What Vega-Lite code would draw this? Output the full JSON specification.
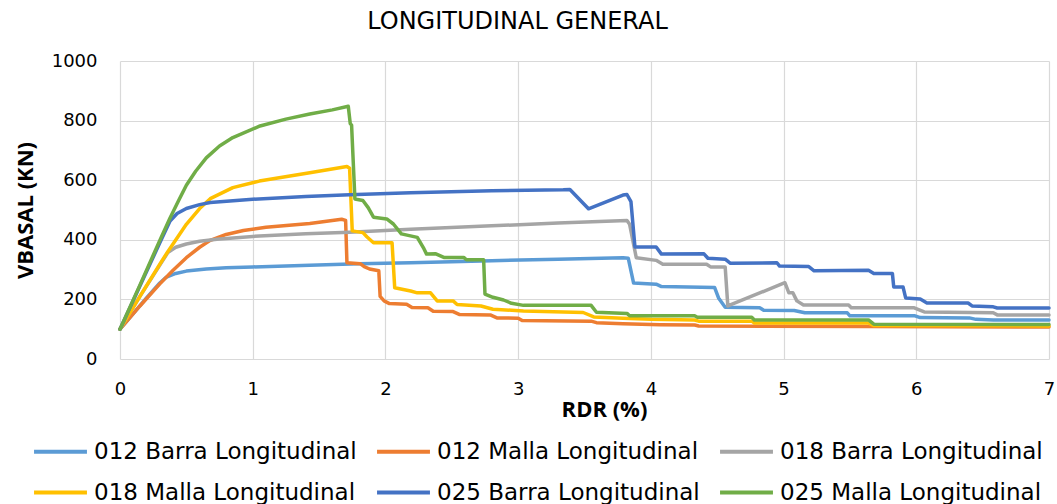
{
  "$schema": "https://vega.github.io/schema/vega-lite/v6.json",
  "autosize": "none",
  "width": 929,
  "height": 298,
  "padding": {"left": 120, "top": 61, "right": 8, "bottom": 145},
  "background": "white",
  "title": {
    "text": "LONGITUDINAL GENERAL",
    "font": "DejaVu Sans",
    "fontSize": 24,
    "fontWeight": "normal",
    "color": "#000000",
    "anchor": "middle",
    "dx": -67,
    "offset": 18
  },
  "data": {
    "values": [
      {"s": "012 Barra Longitudinal", "x": 0, "y": 100},
      {"s": "012 Barra Longitudinal", "x": 0.1, "y": 152},
      {"s": "012 Barra Longitudinal", "x": 0.2, "y": 205},
      {"s": "012 Barra Longitudinal", "x": 0.3, "y": 255},
      {"s": "012 Barra Longitudinal", "x": 0.35, "y": 275},
      {"s": "012 Barra Longitudinal", "x": 0.42, "y": 287},
      {"s": "012 Barra Longitudinal", "x": 0.5, "y": 295},
      {"s": "012 Barra Longitudinal", "x": 0.65, "y": 302},
      {"s": "012 Barra Longitudinal", "x": 0.8, "y": 306},
      {"s": "012 Barra Longitudinal", "x": 1.0, "y": 309},
      {"s": "012 Barra Longitudinal", "x": 1.43, "y": 315},
      {"s": "012 Barra Longitudinal", "x": 1.8, "y": 320},
      {"s": "012 Barra Longitudinal", "x": 2.19, "y": 323},
      {"s": "012 Barra Longitudinal", "x": 2.8, "y": 330},
      {"s": "012 Barra Longitudinal", "x": 3.3, "y": 335},
      {"s": "012 Barra Longitudinal", "x": 3.79, "y": 340},
      {"s": "012 Barra Longitudinal", "x": 3.83, "y": 338},
      {"s": "012 Barra Longitudinal", "x": 3.87, "y": 255},
      {"s": "012 Barra Longitudinal", "x": 4.04, "y": 251},
      {"s": "012 Barra Longitudinal", "x": 4.08, "y": 243},
      {"s": "012 Barra Longitudinal", "x": 4.48, "y": 240},
      {"s": "012 Barra Longitudinal", "x": 4.51, "y": 205},
      {"s": "012 Barra Longitudinal", "x": 4.56, "y": 174},
      {"s": "012 Barra Longitudinal", "x": 4.82, "y": 172},
      {"s": "012 Barra Longitudinal", "x": 4.85, "y": 164},
      {"s": "012 Barra Longitudinal", "x": 5.08, "y": 163},
      {"s": "012 Barra Longitudinal", "x": 5.16, "y": 155},
      {"s": "012 Barra Longitudinal", "x": 5.48, "y": 155},
      {"s": "012 Barra Longitudinal", "x": 5.5, "y": 145},
      {"s": "012 Barra Longitudinal", "x": 5.99, "y": 145},
      {"s": "012 Barra Longitudinal", "x": 6.03, "y": 139},
      {"s": "012 Barra Longitudinal", "x": 6.4, "y": 138},
      {"s": "012 Barra Longitudinal", "x": 6.45, "y": 133},
      {"s": "012 Barra Longitudinal", "x": 6.58, "y": 131},
      {"s": "012 Barra Longitudinal", "x": 7.0, "y": 131},

      {"s": "012 Malla Longitudinal", "x": 0, "y": 100},
      {"s": "012 Malla Longitudinal", "x": 0.15, "y": 178},
      {"s": "012 Malla Longitudinal", "x": 0.3, "y": 252},
      {"s": "012 Malla Longitudinal", "x": 0.4, "y": 298},
      {"s": "012 Malla Longitudinal", "x": 0.5, "y": 340},
      {"s": "012 Malla Longitudinal", "x": 0.6, "y": 375},
      {"s": "012 Malla Longitudinal", "x": 0.68, "y": 398},
      {"s": "012 Malla Longitudinal", "x": 0.8, "y": 418},
      {"s": "012 Malla Longitudinal", "x": 0.93, "y": 431},
      {"s": "012 Malla Longitudinal", "x": 1.1, "y": 442},
      {"s": "012 Malla Longitudinal", "x": 1.43, "y": 455},
      {"s": "012 Malla Longitudinal", "x": 1.67, "y": 469},
      {"s": "012 Malla Longitudinal", "x": 1.7, "y": 465},
      {"s": "012 Malla Longitudinal", "x": 1.71, "y": 323},
      {"s": "012 Malla Longitudinal", "x": 1.81, "y": 320},
      {"s": "012 Malla Longitudinal", "x": 1.84, "y": 310},
      {"s": "012 Malla Longitudinal", "x": 1.88, "y": 302},
      {"s": "012 Malla Longitudinal", "x": 1.95, "y": 296},
      {"s": "012 Malla Longitudinal", "x": 1.96, "y": 210},
      {"s": "012 Malla Longitudinal", "x": 1.99, "y": 195},
      {"s": "012 Malla Longitudinal", "x": 2.03, "y": 186},
      {"s": "012 Malla Longitudinal", "x": 2.16, "y": 184},
      {"s": "012 Malla Longitudinal", "x": 2.2, "y": 173},
      {"s": "012 Malla Longitudinal", "x": 2.32, "y": 172},
      {"s": "012 Malla Longitudinal", "x": 2.36, "y": 160},
      {"s": "012 Malla Longitudinal", "x": 2.51, "y": 159},
      {"s": "012 Malla Longitudinal", "x": 2.56, "y": 149},
      {"s": "012 Malla Longitudinal", "x": 2.79, "y": 148},
      {"s": "012 Malla Longitudinal", "x": 2.84, "y": 138},
      {"s": "012 Malla Longitudinal", "x": 3.0, "y": 137},
      {"s": "012 Malla Longitudinal", "x": 3.03, "y": 129},
      {"s": "012 Malla Longitudinal", "x": 3.55, "y": 127},
      {"s": "012 Malla Longitudinal", "x": 3.59, "y": 122},
      {"s": "012 Malla Longitudinal", "x": 3.79, "y": 118},
      {"s": "012 Malla Longitudinal", "x": 4.07, "y": 115},
      {"s": "012 Malla Longitudinal", "x": 4.33, "y": 114},
      {"s": "012 Malla Longitudinal", "x": 4.36, "y": 111},
      {"s": "012 Malla Longitudinal", "x": 5.66, "y": 109},
      {"s": "012 Malla Longitudinal", "x": 7.0, "y": 107},

      {"s": "018 Barra Longitudinal", "x": 0, "y": 100},
      {"s": "018 Barra Longitudinal", "x": 0.15, "y": 210},
      {"s": "018 Barra Longitudinal", "x": 0.3, "y": 315},
      {"s": "018 Barra Longitudinal", "x": 0.36, "y": 357},
      {"s": "018 Barra Longitudinal", "x": 0.42, "y": 375},
      {"s": "018 Barra Longitudinal", "x": 0.5, "y": 386},
      {"s": "018 Barra Longitudinal", "x": 0.6, "y": 395},
      {"s": "018 Barra Longitudinal", "x": 0.73, "y": 402},
      {"s": "018 Barra Longitudinal", "x": 1.05, "y": 413},
      {"s": "018 Barra Longitudinal", "x": 1.4, "y": 420},
      {"s": "018 Barra Longitudinal", "x": 1.73, "y": 425},
      {"s": "018 Barra Longitudinal", "x": 2.19, "y": 435},
      {"s": "018 Barra Longitudinal", "x": 2.8, "y": 447},
      {"s": "018 Barra Longitudinal", "x": 3.3, "y": 456},
      {"s": "018 Barra Longitudinal", "x": 3.82, "y": 465},
      {"s": "018 Barra Longitudinal", "x": 3.84, "y": 452},
      {"s": "018 Barra Longitudinal", "x": 3.89, "y": 340},
      {"s": "018 Barra Longitudinal", "x": 4.04, "y": 331},
      {"s": "018 Barra Longitudinal", "x": 4.09, "y": 318},
      {"s": "018 Barra Longitudinal", "x": 4.42, "y": 318},
      {"s": "018 Barra Longitudinal", "x": 4.45, "y": 309},
      {"s": "018 Barra Longitudinal", "x": 4.56, "y": 309},
      {"s": "018 Barra Longitudinal", "x": 4.58, "y": 178},
      {"s": "018 Barra Longitudinal", "x": 5.01, "y": 256},
      {"s": "018 Barra Longitudinal", "x": 5.04, "y": 222},
      {"s": "018 Barra Longitudinal", "x": 5.07, "y": 222},
      {"s": "018 Barra Longitudinal", "x": 5.1, "y": 195},
      {"s": "018 Barra Longitudinal", "x": 5.15, "y": 181},
      {"s": "018 Barra Longitudinal", "x": 5.49, "y": 181},
      {"s": "018 Barra Longitudinal", "x": 5.51, "y": 172},
      {"s": "018 Barra Longitudinal", "x": 5.98, "y": 172},
      {"s": "018 Barra Longitudinal", "x": 6.06, "y": 158},
      {"s": "018 Barra Longitudinal", "x": 6.58, "y": 155},
      {"s": "018 Barra Longitudinal", "x": 6.61, "y": 148},
      {"s": "018 Barra Longitudinal", "x": 7.0, "y": 148},

      {"s": "018 Malla Longitudinal", "x": 0, "y": 100},
      {"s": "018 Malla Longitudinal", "x": 0.15, "y": 210},
      {"s": "018 Malla Longitudinal", "x": 0.3, "y": 318},
      {"s": "018 Malla Longitudinal", "x": 0.36, "y": 360},
      {"s": "018 Malla Longitudinal", "x": 0.5, "y": 452},
      {"s": "018 Malla Longitudinal", "x": 0.6, "y": 505},
      {"s": "018 Malla Longitudinal", "x": 0.68, "y": 538},
      {"s": "018 Malla Longitudinal", "x": 0.85, "y": 575},
      {"s": "018 Malla Longitudinal", "x": 1.05, "y": 597},
      {"s": "018 Malla Longitudinal", "x": 1.43, "y": 625},
      {"s": "018 Malla Longitudinal", "x": 1.71, "y": 646},
      {"s": "018 Malla Longitudinal", "x": 1.73, "y": 640},
      {"s": "018 Malla Longitudinal", "x": 1.75, "y": 430},
      {"s": "018 Malla Longitudinal", "x": 1.83, "y": 424},
      {"s": "018 Malla Longitudinal", "x": 1.86, "y": 410},
      {"s": "018 Malla Longitudinal", "x": 1.91, "y": 390},
      {"s": "018 Malla Longitudinal", "x": 2.05, "y": 390},
      {"s": "018 Malla Longitudinal", "x": 2.07, "y": 239},
      {"s": "018 Malla Longitudinal", "x": 2.19, "y": 228},
      {"s": "018 Malla Longitudinal", "x": 2.24, "y": 222},
      {"s": "018 Malla Longitudinal", "x": 2.34, "y": 222},
      {"s": "018 Malla Longitudinal", "x": 2.39, "y": 195},
      {"s": "018 Malla Longitudinal", "x": 2.51, "y": 195},
      {"s": "018 Malla Longitudinal", "x": 2.54, "y": 183},
      {"s": "018 Malla Longitudinal", "x": 2.72, "y": 178},
      {"s": "018 Malla Longitudinal", "x": 2.81, "y": 167},
      {"s": "018 Malla Longitudinal", "x": 3.04, "y": 161},
      {"s": "018 Malla Longitudinal", "x": 3.49, "y": 156},
      {"s": "018 Malla Longitudinal", "x": 3.57, "y": 141},
      {"s": "018 Malla Longitudinal", "x": 3.79, "y": 137},
      {"s": "018 Malla Longitudinal", "x": 4.0, "y": 133},
      {"s": "018 Malla Longitudinal", "x": 4.33, "y": 131},
      {"s": "018 Malla Longitudinal", "x": 4.36, "y": 127},
      {"s": "018 Malla Longitudinal", "x": 4.76, "y": 127},
      {"s": "018 Malla Longitudinal", "x": 4.78, "y": 121},
      {"s": "018 Malla Longitudinal", "x": 5.64, "y": 121},
      {"s": "018 Malla Longitudinal", "x": 5.68, "y": 112},
      {"s": "018 Malla Longitudinal", "x": 7.0, "y": 111},

      {"s": "025 Barra Longitudinal", "x": 0, "y": 100},
      {"s": "025 Barra Longitudinal", "x": 0.15, "y": 245},
      {"s": "025 Barra Longitudinal", "x": 0.3, "y": 390},
      {"s": "025 Barra Longitudinal", "x": 0.377, "y": 463},
      {"s": "025 Barra Longitudinal", "x": 0.43, "y": 488},
      {"s": "025 Barra Longitudinal", "x": 0.5, "y": 505},
      {"s": "025 Barra Longitudinal", "x": 0.6, "y": 518},
      {"s": "025 Barra Longitudinal", "x": 0.68, "y": 525},
      {"s": "025 Barra Longitudinal", "x": 1.0, "y": 536},
      {"s": "025 Barra Longitudinal", "x": 1.4, "y": 545},
      {"s": "025 Barra Longitudinal", "x": 1.73, "y": 551},
      {"s": "025 Barra Longitudinal", "x": 2.19, "y": 558},
      {"s": "025 Barra Longitudinal", "x": 2.8, "y": 565},
      {"s": "025 Barra Longitudinal", "x": 3.34, "y": 568},
      {"s": "025 Barra Longitudinal", "x": 3.39, "y": 569},
      {"s": "025 Barra Longitudinal", "x": 3.53, "y": 504},
      {"s": "025 Barra Longitudinal", "x": 3.79, "y": 550},
      {"s": "025 Barra Longitudinal", "x": 3.82, "y": 552},
      {"s": "025 Barra Longitudinal", "x": 3.85, "y": 528},
      {"s": "025 Barra Longitudinal", "x": 3.88, "y": 376},
      {"s": "025 Barra Longitudinal", "x": 4.04, "y": 376},
      {"s": "025 Barra Longitudinal", "x": 4.08, "y": 352},
      {"s": "025 Barra Longitudinal", "x": 4.4, "y": 353},
      {"s": "025 Barra Longitudinal", "x": 4.43, "y": 338},
      {"s": "025 Barra Longitudinal", "x": 4.56, "y": 335},
      {"s": "025 Barra Longitudinal", "x": 4.6, "y": 321},
      {"s": "025 Barra Longitudinal", "x": 4.95, "y": 323},
      {"s": "025 Barra Longitudinal", "x": 4.97, "y": 312},
      {"s": "025 Barra Longitudinal", "x": 5.19, "y": 310},
      {"s": "025 Barra Longitudinal", "x": 5.23, "y": 296},
      {"s": "025 Barra Longitudinal", "x": 5.64, "y": 298},
      {"s": "025 Barra Longitudinal", "x": 5.68, "y": 287},
      {"s": "025 Barra Longitudinal", "x": 5.82, "y": 287},
      {"s": "025 Barra Longitudinal", "x": 5.83, "y": 242},
      {"s": "025 Barra Longitudinal", "x": 5.9, "y": 242},
      {"s": "025 Barra Longitudinal", "x": 5.92, "y": 205},
      {"s": "025 Barra Longitudinal", "x": 6.03, "y": 201},
      {"s": "025 Barra Longitudinal", "x": 6.08, "y": 188},
      {"s": "025 Barra Longitudinal", "x": 6.39, "y": 188},
      {"s": "025 Barra Longitudinal", "x": 6.42, "y": 178},
      {"s": "025 Barra Longitudinal", "x": 6.58, "y": 175},
      {"s": "025 Barra Longitudinal", "x": 6.61, "y": 171},
      {"s": "025 Barra Longitudinal", "x": 7.0, "y": 171},

      {"s": "025 Malla Longitudinal", "x": 0, "y": 100},
      {"s": "025 Malla Longitudinal", "x": 0.15, "y": 248},
      {"s": "025 Malla Longitudinal", "x": 0.3, "y": 398},
      {"s": "025 Malla Longitudinal", "x": 0.377, "y": 473},
      {"s": "025 Malla Longitudinal", "x": 0.44, "y": 530},
      {"s": "025 Malla Longitudinal", "x": 0.5, "y": 583},
      {"s": "025 Malla Longitudinal", "x": 0.57, "y": 630},
      {"s": "025 Malla Longitudinal", "x": 0.65, "y": 675},
      {"s": "025 Malla Longitudinal", "x": 0.75, "y": 715},
      {"s": "025 Malla Longitudinal", "x": 0.85, "y": 743},
      {"s": "025 Malla Longitudinal", "x": 1.055, "y": 782},
      {"s": "025 Malla Longitudinal", "x": 1.25, "y": 805},
      {"s": "025 Malla Longitudinal", "x": 1.43, "y": 822},
      {"s": "025 Malla Longitudinal", "x": 1.6, "y": 836},
      {"s": "025 Malla Longitudinal", "x": 1.72, "y": 848},
      {"s": "025 Malla Longitudinal", "x": 1.735, "y": 790},
      {"s": "025 Malla Longitudinal", "x": 1.745, "y": 785},
      {"s": "025 Malla Longitudinal", "x": 1.77, "y": 537},
      {"s": "025 Malla Longitudinal", "x": 1.83, "y": 532},
      {"s": "025 Malla Longitudinal", "x": 1.87, "y": 508},
      {"s": "025 Malla Longitudinal", "x": 1.91, "y": 476},
      {"s": "025 Malla Longitudinal", "x": 2.01, "y": 470},
      {"s": "025 Malla Longitudinal", "x": 2.06, "y": 453},
      {"s": "025 Malla Longitudinal", "x": 2.12, "y": 420},
      {"s": "025 Malla Longitudinal", "x": 2.24, "y": 408},
      {"s": "025 Malla Longitudinal", "x": 2.29, "y": 370},
      {"s": "025 Malla Longitudinal", "x": 2.31, "y": 352},
      {"s": "025 Malla Longitudinal", "x": 2.38, "y": 353},
      {"s": "025 Malla Longitudinal", "x": 2.44, "y": 341},
      {"s": "025 Malla Longitudinal", "x": 2.59, "y": 341},
      {"s": "025 Malla Longitudinal", "x": 2.61, "y": 333},
      {"s": "025 Malla Longitudinal", "x": 2.74, "y": 333},
      {"s": "025 Malla Longitudinal", "x": 2.75, "y": 218},
      {"s": "025 Malla Longitudinal", "x": 2.81, "y": 207},
      {"s": "025 Malla Longitudinal", "x": 2.89, "y": 198},
      {"s": "025 Malla Longitudinal", "x": 2.95, "y": 187},
      {"s": "025 Malla Longitudinal", "x": 3.04, "y": 180},
      {"s": "025 Malla Longitudinal", "x": 3.55, "y": 180},
      {"s": "025 Malla Longitudinal", "x": 3.59, "y": 157},
      {"s": "025 Malla Longitudinal", "x": 3.82, "y": 153},
      {"s": "025 Malla Longitudinal", "x": 3.84, "y": 145},
      {"s": "025 Malla Longitudinal", "x": 4.33, "y": 145},
      {"s": "025 Malla Longitudinal", "x": 4.35, "y": 140},
      {"s": "025 Malla Longitudinal", "x": 4.76, "y": 140},
      {"s": "025 Malla Longitudinal", "x": 4.78, "y": 131},
      {"s": "025 Malla Longitudinal", "x": 5.64, "y": 131},
      {"s": "025 Malla Longitudinal", "x": 5.68, "y": 117},
      {"s": "025 Malla Longitudinal", "x": 7.0, "y": 116}
    ]
  },
  "mark": {"type": "line", "strokeWidth": 3.5, "strokeJoin": "round", "strokeCap": "round"},
  "encoding": {
    "x": {
      "field": "x",
      "type": "quantitative",
      "scale": {"domain": [0, 7], "nice": false, "zero": false},
      "axis": {
        "values": [0, 1, 2, 3, 4, 5, 6, 7],
        "title": "RDR (%)",
        "titleFont": "Open Sans",
        "titleFontSize": 22,
        "titleFontWeight": "bold",
        "titleColor": "#000000",
        "titleX": 484,
        "titleY": 50,
        "titleBaseline": "middle",
        "labelFont": "DejaVu Sans",
        "labelFontSize": 18,
        "labelColor": "#000000",
        "labelPadding": 21,
        "labelFlush": false
      }
    },
    "y": {
      "field": "y",
      "type": "quantitative",
      "scale": {"domain": [0, 1000], "nice": false},
      "axis": {
        "values": [0, 200, 400, 600, 800, 1000],
        "format": "d",
        "title": "VBASAL (KN)",
        "titleFont": "Open Sans",
        "titleFontSize": 22,
        "titleFontWeight": "bold",
        "titleColor": "#000000",
        "titleAngle": 270,
        "titleX": -95,
        "titleY": 149,
        "titleAlign": "center",
        "titleBaseline": "middle",
        "labelFont": "DejaVu Sans",
        "labelFontSize": 18,
        "labelColor": "#000000",
        "labelPadding": 23
      }
    },
    "color": {
      "field": "s",
      "type": "nominal",
      "scale": {
        "domain": ["012 Barra Longitudinal", "012 Malla Longitudinal", "018 Barra Longitudinal", "018 Malla Longitudinal", "025 Barra Longitudinal", "025 Malla Longitudinal"],
        "range": ["#5B9BD5", "#ED7D31", "#A5A5A5", "#FFC000", "#4472C4", "#70AD47"]
      },
      "legend": {
        "title": null,
        "orient": "none",
        "legendX": -88,
        "legendY": 362,
        "direction": "horizontal",
        "columns": 3,
        "symbolType": "stroke",
        "symbolSize": 2800,
        "symbolStrokeWidth": 4,
        "symbolOffset": 0,
        "labelOffset": 5,
        "labelFont": "DejaVu Sans",
        "labelFontSize": 23,
        "labelColor": "#000000",
        "labelLimit": 400,
        "columnPadding": 12,
        "rowPadding": -17,
        "padding": 0
      }
    }
  },
  "config": {
    "view": {"stroke": null},
    "axis": {"grid": true, "gridColor": "#d9d9d9", "gridWidth": 1.2, "domain": false, "ticks": false}
  }
}
